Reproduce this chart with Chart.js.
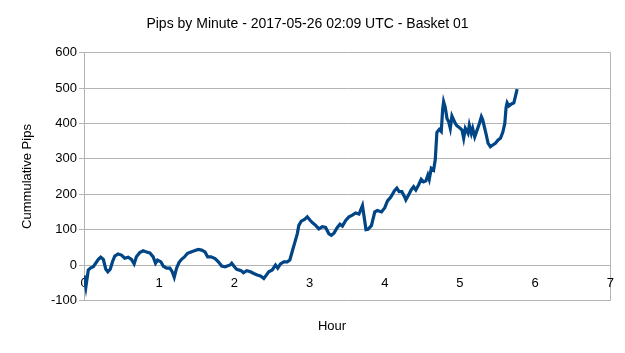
<!DOCTYPE html>
<html>
<head>
<meta charset="utf-8">
<script src="https://cdn.jsdelivr.net/npm/chart.js@4/dist/chart.umd.min.js"></script>
<style>
  html, body { margin: 0; padding: 0; background: #fff; }
  #wrap { width: 625px; height: 353px; position: relative; }
</style>
</head>
<body>
<div id="wrap"><canvas id="chart"></canvas></div>
<script>
const TITLE = 'Pips by Minute - 2017-05-26 02:09 UTC - Basket 01';
const Y_TITLE = 'Cummulative Pips';
const X_TITLE = 'Hour';

const yTicks = [-100, 0, 100, 200, 300, 400, 500, 600];
const xTicks = [0, 1, 2, 3, 4, 5, 6, 7];

// hours since start
const hours = [
  0.000, 0.025, 0.057, 0.090, 0.124, 0.191, 0.222, 0.257, 0.290, 0.317,
  0.349, 0.380, 0.409, 0.453, 0.498, 0.542, 0.587, 0.631, 0.667, 0.697,
  0.742, 0.787, 0.831, 0.876, 0.920, 0.951, 0.978, 1.023, 1.053, 1.098,
  1.142, 1.173, 1.200, 1.231, 1.263, 1.297, 1.333, 1.377, 1.423, 1.467,
  1.520, 1.564, 1.609, 1.644, 1.689, 1.743, 1.787, 1.831, 1.876, 1.943,
  1.964, 2.000, 2.031, 2.089, 2.120, 2.164, 2.213, 2.258, 2.303, 2.347,
  2.391, 2.427, 2.457, 2.503, 2.547, 2.577, 2.613, 2.657, 2.703, 2.737,
  2.769, 2.800, 2.836, 2.857, 2.889, 2.933, 2.969, 3.004, 3.036, 3.080,
  3.124, 3.169, 3.213, 3.257, 3.289, 3.324, 3.369, 3.404, 3.436, 3.480,
  3.524, 3.569, 3.613, 3.657, 3.703, 3.750, 3.777, 3.822, 3.867, 3.902,
  3.956, 4.000, 4.036, 4.080, 4.129, 4.160, 4.191, 4.227, 4.262, 4.280,
  4.316, 4.351, 4.383, 4.413, 4.449, 4.484, 4.516, 4.547, 4.573, 4.591,
  4.618, 4.649, 4.671, 4.693, 4.724, 4.751, 4.769, 4.782, 4.804, 4.827,
  4.849, 4.871, 4.893, 4.916, 4.938, 4.960, 4.982, 5.004, 5.027, 5.049,
  5.071, 5.107, 5.124, 5.151, 5.169, 5.196, 5.227, 5.258, 5.284, 5.302,
  5.347, 5.373, 5.404, 5.436, 5.471, 5.507, 5.538, 5.569, 5.596, 5.613,
  5.627, 5.649, 5.684, 5.716, 5.747, 5.760
];

const pips = [
  -30, -62, -14, -8, -5, 16, 22, 16, -12, -19,
  -12, 10, 25, 31, 28, 19, 22, 16, 3, 23,
  35, 40, 37, 34, 23, 5, 14, 9, -3, -9,
  -9, -19, -35, -9, 7, 16, 22, 33, 37, 40,
  44, 42, 37, 23, 23, 18, 9, -3, -5, 0,
  5, -5, -12, -16, -22, -16, -19, -24, -28, -31,
  -38, -28, -19, -14, 0, -9, 3, 9, 9, 14,
  38, 61, 88, 112, 124, 129, 136, 127, 120, 112,
  102, 108, 106, 88, 84, 90, 106, 115, 110, 126,
  136, 141, 147, 144, 168, 100, 101, 111, 150, 154,
  150, 162, 181, 192, 210, 217, 207, 207, 193, 184,
  198, 212, 221, 212, 226, 242, 235, 238, 254, 242,
  273, 268, 297, 375, 383, 377, 438, 461, 445, 414,
  405, 386, 421, 410, 400, 393, 390, 386, 381, 358,
  386, 372, 395, 372, 386, 362, 381, 400, 419, 410,
  370, 344, 334, 339, 344, 353, 358, 375, 400, 445,
  458, 449, 455, 458, 485, 497
];

const FONT = "'Liberation Sans', Arial, sans-serif";
const GRID = '#b3b3b3';

const xTitlePlugin = {
  id: 'xTitle',
  afterDraw(chart) {
    const ctx = chart.ctx;
    ctx.save();
    ctx.font = `13px ${FONT}`;
    ctx.fillStyle = '#000';
    ctx.textAlign = 'center';
    ctx.textBaseline = 'middle';
    ctx.fillText(X_TITLE, 332, 326);
    ctx.restore();
  }
};

new Chart(document.getElementById('chart'), {
  type: 'line',
  data: {
    datasets: [{
      data: hours.map((h, i) => ({ x: h, y: pips[i] })),
      borderColor: '#004586',
      borderWidth: 3.2,
      pointRadius: 0,
      tension: 0,
      fill: false
    }]
  },
  options: {
    responsive: true,
    maintainAspectRatio: false,
    animation: false,
    devicePixelRatio: 1,
    layout: { padding: { top: 0, left: 0, right: 10, bottom: 52.6 } },
    plugins: {
      legend: { display: false },
      tooltip: { enabled: false },
      title: {
        display: true,
        text: TITLE,
        color: '#000',
        font: { family: FONT, size: 14, weight: 'normal' },
        padding: { top: 16.2, bottom: 19.6 }
      }
    },
    scales: {
      x: {
        type: 'linear',
        position: { y: 0 },
        min: 0,
        max: 7,
        afterBuildTicks: scale => { scale.ticks = xTicks.map(v => ({ value: v })); },
        ticks: {
          color: '#000',
          font: { family: FONT, size: 13 },
          padding: 11,
          maxRotation: 0
        },
        grid: {
          drawTicks: false,
          color: ctx => (ctx.tick && ctx.tick.value === 7 ? GRID : 'transparent')
        },
        border: { display: false }
      },
      y: {
        min: -100,
        max: 600,
        afterBuildTicks: scale => { scale.ticks = yTicks.map(v => ({ value: v })); },
        afterFit: scale => { scale.width = 84; },
        ticks: {
          color: '#000',
          font: { family: FONT, size: 13 },
          padding: 2
        },
        grid: { color: GRID, tickLength: 5 },
        border: { display: true, color: GRID },
        title: {
          display: true,
          text: Y_TITLE,
          color: '#000',
          font: { family: FONT, size: 13 },
          padding: { top: 19.7 }
        }
      }
    }
  },
  plugins: [xTitlePlugin]
});
</script>
</body>
</html>
